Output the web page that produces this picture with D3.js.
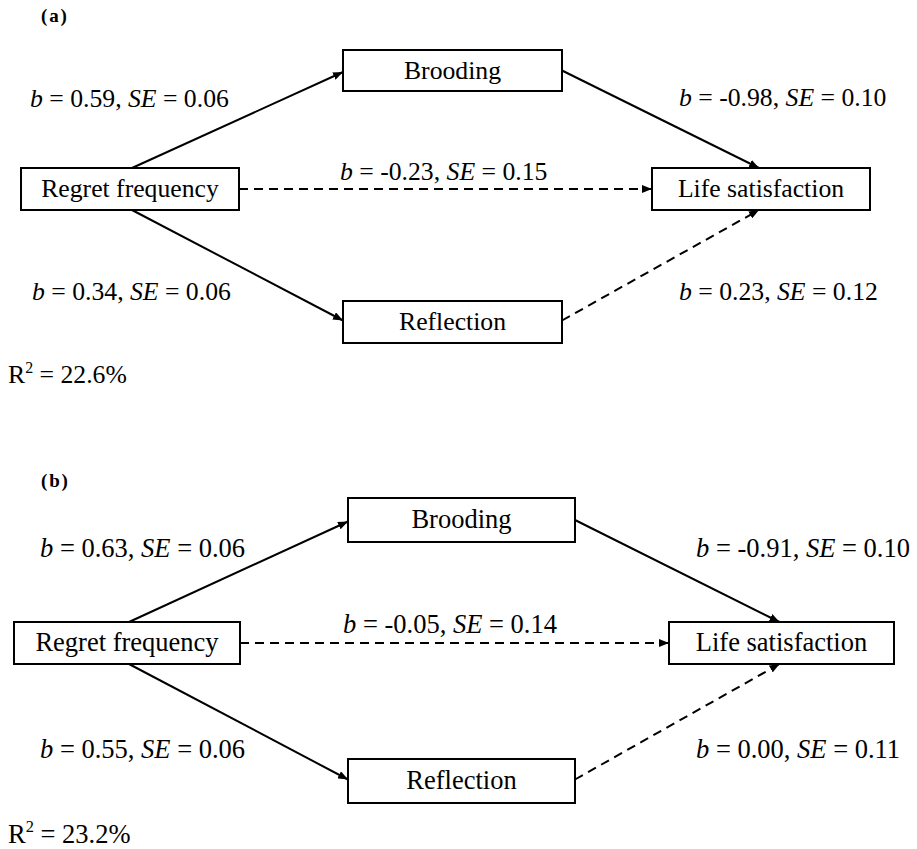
<!DOCTYPE html>
<html>
<head>
<meta charset="utf-8">
<script src="https://cdn.jsdelivr.net/npm/d3@7"></script>
<style>
  html, body { margin: 0; padding: 0; background: #fff; }
  svg { display: block; }
</style>
</head>
<body>
<svg id="chart" width="917" height="849"></svg>
<script>
// ---------------- data ----------------
const panels = ["(a)", "(b)"];
const nodeIds = ["regret", "brooding", "life", "reflection"];
const nodeLabels = ["Regret frequency", "Brooding", "Life satisfaction", "Reflection"];
const edgeFrom = ["regret", "brooding", "regret", "regret", "reflection"];
const edgeTo   = ["brooding", "life", "life", "reflection", "life"];
const edgeSignificant = [true, true, false, true, false];
const bValuesA  = [0.59, -0.98, -0.23, 0.34, 0.23];
const seValuesA = [0.06, 0.10, 0.15, 0.06, 0.12];
const bValuesB  = [0.63, -0.91, -0.05, 0.55, 0.00];
const seValuesB = [0.06, 0.10, 0.14, 0.06, 0.11];
const rSquared  = ["22.6%", "23.2%"];

// ---------------- layout (positions / sizes) ----------------
const FONT = "'Liberation Serif', Tinos, 'Times New Roman', Times, 'DejaVu Serif', serif";
const layouts = [
  {
    font: 25.7,
    title: [41, 22],
    r2: [8, 383],
    boxes: { regret: [21,168,239,210], brooding: [343,50,562,91], life: [652,168,870,210], reflection: [343,301,562,343] },
    labels: [[30,107],[679,106],[340,180],[32,300],[679,300]]
  },
  {
    font: 26.5,
    title: [41, 487],
    r2: [8, 843],
    boxes: { regret: [14,622,240,664], brooding: [348,498,575,542], life: [669,622,894,664], reflection: [348,759,575,803] },
    labels: [[40,557],[696,557],[343,633],[40,758],[696,758]]
  }
];
const bSets = [bValuesA, bValuesB];
const seSets = [seValuesA, seValuesB];

const fmt = v => v.toFixed(2);   // keeps ASCII hyphen for negatives

const svg = d3.select("#chart").attr("font-family", FONT);

svg.append("defs").append("marker")
  .attr("id", "arrow")
  .attr("viewBox", "0 0 10 8")
  .attr("refX", 10).attr("refY", 4)
  .attr("markerUnits", "userSpaceOnUse")
  .attr("markerWidth", 10).attr("markerHeight", 8)
  .attr("orient", "auto")
  .append("path").attr("d", "M0,0 L10,4 L0,8 Z").attr("fill", "#000");

panels.forEach((title, pi) => {
  const L = layouts[pi];
  const g = svg.append("g");
  const box = id => {
    const b = L.boxes[id];
    return { x0: b[0], y0: b[1], x1: b[2], y1: b[3], cx: (b[0]+b[2])/2, cy: (b[1]+b[3])/2 };
  };

  // title
  g.append("text")
    .attr("x", L.title[0]).attr("y", L.title[1])
    .attr("font-family", FONT)
    .attr("font-size", 19).attr("font-weight", "bold")
    .attr("letter-spacing", 1.8)
    .text(title);

  // edges
  const edges = edgeFrom.map((f, i) => ({ from: f, to: edgeTo[i], sig: edgeSignificant[i], b: bSets[pi][i], se: seSets[pi][i], i }));
  const endpoints = e => {
    const s = box(e.from), t = box(e.to);
    if (e.from === "regret" && e.to === "life") return [s.x1, s.cy, t.x0, t.cy];
    if (e.from === "regret" && e.to === "brooding") return [s.cx + 2, s.y0, t.x0, t.cy + 1.5];
    if (e.from === "regret" && e.to === "reflection") return [s.cx + 2, s.y1, t.x0, t.cy - 1.5];
    if (e.from === "brooding") return [s.x1, s.cy, t.cx - 2, t.y0];
    return [s.x1, s.cy - 1.5, t.cx - 2, t.y1];
  };

  g.selectAll("line.edge").data(edges).join("line")
    .attr("class", "edge")
    .attr("x1", d => endpoints(d)[0]).attr("y1", d => endpoints(d)[1])
    .attr("x2", d => endpoints(d)[2]).attr("y2", d => endpoints(d)[3])
    .attr("stroke", "#000").attr("stroke-width", 2)
    .attr("stroke-dasharray", d => d.sig ? null : "9,6")
    .attr("marker-end", "url(#arrow)");

  // boxes
  const nodes = nodeIds.map((id, i) => ({ id, label: nodeLabels[i], ...box(id) }));
  g.selectAll("rect.node").data(nodes).join("rect")
    .attr("class", "node")
    .attr("x", d => d.x0).attr("y", d => d.y0)
    .attr("width", d => d.x1 - d.x0).attr("height", d => d.y1 - d.y0)
    .attr("fill", "#fff").attr("stroke", "#000").attr("stroke-width", 2);
  g.selectAll("text.node").data(nodes).join("text")
    .attr("class", "node")
    .attr("x", d => d.cx).attr("y", d => d.cy + L.font * 0.32)
    .attr("text-anchor", "middle")
    .attr("font-family", FONT)
    .attr("font-size", L.font)
    .text(d => d.label);

  // edge labels
  const lab = g.selectAll("text.elab").data(edges).join("text")
    .attr("class", "elab")
    .attr("x", d => L.labels[d.i][0]).attr("y", d => L.labels[d.i][1])
    .attr("font-family", FONT)
    .attr("font-size", L.font);
  lab.append("tspan").attr("font-style", "italic").text("b");
  lab.append("tspan").text(d => " = " + fmt(d.b) + ", ");
  lab.append("tspan").attr("font-style", "italic").text("SE");
  lab.append("tspan").text(d => " = " + fmt(d.se));

  // R squared
  const r = g.append("text").attr("x", L.r2[0]).attr("y", L.r2[1])
    .attr("font-family", FONT).attr("font-size", L.font);
  r.append("tspan").text("R");
  r.append("tspan").attr("font-size", L.font * 0.62).attr("dy", -L.font * 0.4).text("2");
  r.append("tspan").attr("dy", L.font * 0.4).text(" = " + rSquared[pi]);
});
</script>
</body>
</html>
